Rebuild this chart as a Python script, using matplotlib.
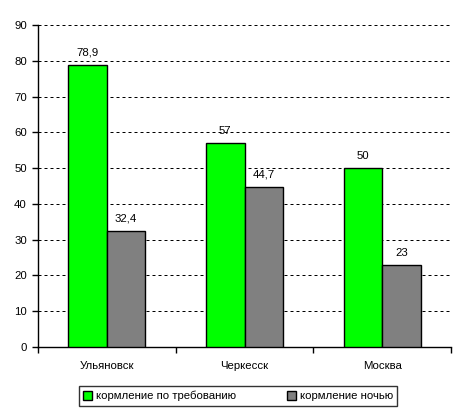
import matplotlib
matplotlib.use("Agg")
import matplotlib.pyplot as plt
import numpy as np

categories = ["Ульяновск", "Черкесск", "Москва"]
series_names = ["кормление по требованию", "кормление ночью"]
demand = [78.9, 57, 50]
night = [32.4, 44.7, 23]
value_labels_demand = ["78,9", "57", "50"]
value_labels_night = ["32,4", "44,7", "23"]

plt.rcParams['font.family'] = ['Liberation Sans', 'DejaVu Sans']
plt.rcParams['font.size'] = 8.2

fig = plt.figure(figsize=(4.66, 4.15), dpi=100)
ax = fig.add_axes([38/466, 68/415, (451-38)/466, (347-25)/415])

x = np.arange(len(categories))
w = 0.28
b1 = ax.bar(x - w/2, demand, w, color="#00ff00", edgecolor="black", linewidth=1, zorder=3, label=series_names[0])
b2 = ax.bar(x + w/2, night, w, color="#808080", edgecolor="black", linewidth=1, zorder=3, label=series_names[1])

for xi, v, t in zip(x - w/2, demand, value_labels_demand):
    ax.text(xi, v + 2.0, t, ha="center", va="bottom")
for xi, v, t in zip(x + w/2, night, value_labels_night):
    ax.text(xi, v + 2.0, t, ha="center", va="bottom")

ax.set_xlim(-0.5, 2.5)
ax.set_ylim(0, 90)
ax.set_yticks(np.arange(0, 91, 10))
ax.yaxis.grid(True, linestyle=(0, (3, 3)), color="black", linewidth=0.72, zorder=0)
ax.set_xticks(x)
ax.set_xticklabels(categories)
ax.tick_params(axis="x", length=0, pad=10)
ax.set_xticks([-0.5, 0.5, 1.5, 2.5], minor=True)
ax.tick_params(axis="x", which="minor", length=4, width=1, direction="out")
ax.tick_params(axis="y", length=4, width=1, direction="out", pad=4)
for s in ["top", "right"]:
    ax.spines[s].set_visible(False)
ax.spines["left"].set_linewidth(1)
ax.spines["bottom"].set_linewidth(1)

leg = fig.legend(handles=[b1, b2], loc="center", bbox_to_anchor=(238/466, 1 - 396/415),
                 ncol=2, frameon=True, fancybox=False, edgecolor="black",
                 handlelength=0.8, handleheight=0.8, handletextpad=0.3, columnspacing=4.5,
                 borderpad=0.4, fontsize=8.2, borderaxespad=0)
leg.get_frame().set_linewidth(1)

fig.savefig("out.png", dpi=100)
